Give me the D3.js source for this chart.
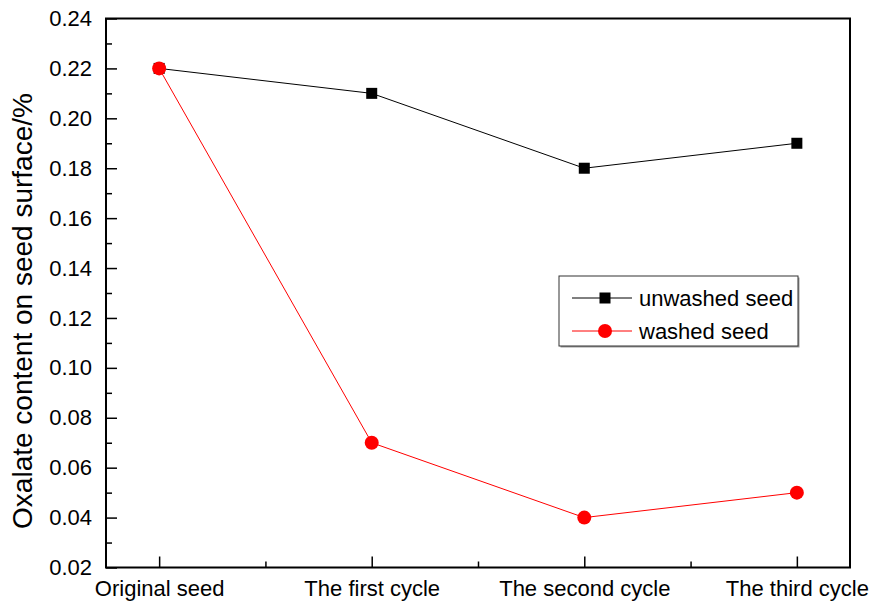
<!DOCTYPE html>
<html>
<head>
<meta charset="utf-8">
<script src="https://cdn.jsdelivr.net/npm/d3@7"></script>
<style>
  body { margin: 0; background: #fff; }
  text { font-family: "Liberation Sans", Arial, sans-serif; }
</style>
</head>
<body>
<svg id="graph"></svg>
<script>
var categories = ["Original seed", "The first cycle", "The second cycle", "The third cycle"];
var unwashed = [0.22, 0.21, 0.18, 0.19];
var washed = [0.22, 0.07, 0.04, 0.05];
var yTicks = [0.02, 0.04, 0.06, 0.08, 0.10, 0.12, 0.14, 0.16, 0.18, 0.20, 0.22, 0.24];

var svg = d3.select("#graph")
    .attr("width", 870)
    .attr("height", 606);

var margin = {top: 18.5, right: 20, bottom: 38.5, left: 106},
    width = 870 - margin.left - margin.right,
    height = 606 - margin.top - margin.bottom;

var x = d3.scaleLinear().domain([-0.25, categories.length - 0.75]).range([0, width]),
    y = d3.scaleLinear().domain([0.02, 0.24]).range([height, 0]);

var g = svg.append("g")
    .attr("transform", "translate(" + margin.left + "," + margin.top + ")");

// frame
g.append("rect")
    .attr("width", width).attr("height", height)
    .attr("fill", "none").attr("stroke", "#000").attr("stroke-width", 2);

// y axis, ticks inward
var yaxis = g.append("g")
    .call(d3.axisLeft(y).tickValues(yTicks).tickFormat(d3.format(".2f")).tickSize(-11).tickPadding(14));
yaxis.select(".domain").remove();
yaxis.selectAll("line").attr("stroke-width", 1.5);
yaxis.selectAll("text").attr("font-size", 22).attr("fill", "#000");

var yMinor = g.append("g")
    .call(d3.axisLeft(y).tickValues(yTicks.slice(0, -1).map(function(d) { return d + 0.01; })).tickSize(-6).tickFormat(""));
yMinor.select(".domain").remove();
yMinor.selectAll("line").attr("stroke-width", 1.5);

// x axis, ticks inward
var xaxis = g.append("g")
    .attr("transform", "translate(0," + height + ")")
    .call(d3.axisBottom(x).tickValues(d3.range(categories.length))
        .tickFormat(function(i) { return categories[i]; }).tickSize(-11).tickPadding(13));
xaxis.select(".domain").remove();
xaxis.selectAll("line").attr("stroke-width", 1.5);
xaxis.selectAll("text").attr("font-size", 22).attr("fill", "#000");

var xMinor = g.append("g")
    .attr("transform", "translate(0," + height + ")")
    .call(d3.axisBottom(x).tickValues(d3.range(categories.length - 1).map(function(i) { return i + 0.5; }))
        .tickSize(-6).tickFormat(""));
xMinor.select(".domain").remove();
xMinor.selectAll("line").attr("stroke-width", 1.5);

// y title
svg.append("text")
    .attr("transform", "translate(32,311) rotate(-90)")
    .attr("text-anchor", "middle")
    .attr("font-size", 28)
    .text("Oxalate content on seed surface/%");

var line = d3.line()
    .x(function(d, i) { return x(i); })
    .y(function(d) { return y(d); });

// unwashed
g.append("path").datum(unwashed)
    .attr("d", line).attr("fill", "none").attr("stroke", "#000").attr("stroke-width", 1);
g.selectAll(".sq").data(unwashed).enter().append("rect")
    .attr("x", function(d, i) { return x(i) - 5.5; })
    .attr("y", function(d) { return y(d) - 5.5; })
    .attr("width", 11).attr("height", 11).attr("fill", "#000");

// washed
g.append("path").datum(washed)
    .attr("d", line).attr("fill", "none").attr("stroke", "#ff0000").attr("stroke-width", 1);
g.selectAll(".dot").data(washed).enter().append("circle")
    .attr("cx", function(d, i) { return x(i); })
    .attr("cy", function(d) { return y(d); })
    .attr("r", 7).attr("fill", "#ff0000");

// legend
var lg = svg.append("g").attr("transform", "translate(559,276)");
lg.append("rect").attr("x", 1.5).attr("y", 1.5).attr("width", 239).attr("height", 70).attr("fill", "#999");
lg.append("rect").attr("width", 239).attr("height", 70).attr("fill", "#fff").attr("stroke", "#333").attr("stroke-width", 1);
var items = [{name: "unwashed seed", color: "#000", shape: "sq"}, {name: "washed seed", color: "#ff0000", shape: "dot"}];
items.forEach(function(it, k) {
  var yy = 22 + k * 33;
  lg.append("line").attr("x1", 13).attr("x2", 73).attr("y1", yy).attr("y2", yy).attr("stroke", it.color);
  if (it.shape === "sq") {
    lg.append("rect").attr("x", 40.5).attr("y", yy - 5.5).attr("width", 11).attr("height", 11).attr("fill", it.color);
  } else {
    lg.append("circle").attr("cx", 46).attr("cy", yy).attr("r", 7).attr("fill", it.color);
  }
  lg.append("text").attr("x", 80).attr("y", yy + 8).attr("font-size", 22).text(it.name);
});
</script>
</body>
</html>
